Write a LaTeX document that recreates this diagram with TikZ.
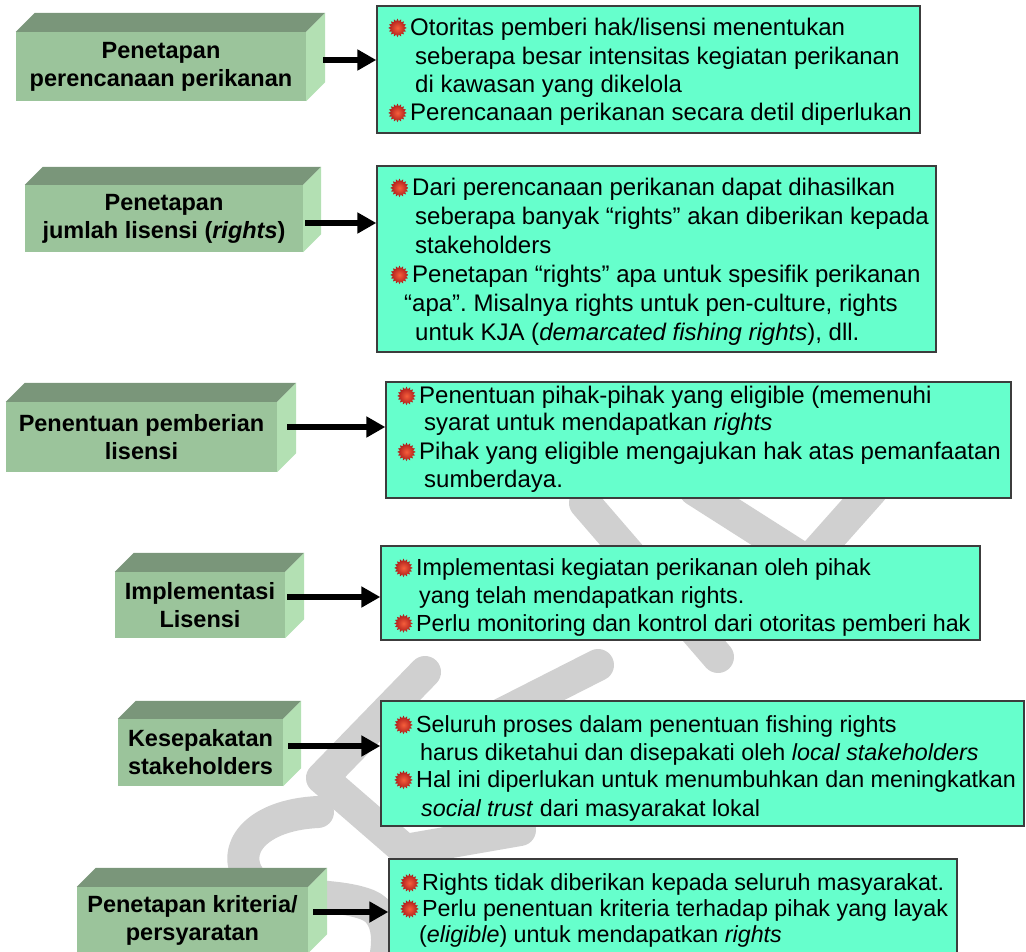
\documentclass[tikz,border=0pt]{standalone}
\usepackage{fontspec}
\setmainfont{Liberation Sans}
\usetikzlibrary{arrows.meta,calc}

\definecolor{frontgreen}{RGB}{155,196,155}
\definecolor{topgreen}{RGB}{122,150,122}
\definecolor{sidegreen}{RGB}{179,224,179}
\definecolor{notefill}{RGB}{102,255,204}
\definecolor{noteline}{RGB}{60,60,60}
\definecolor{markgray}{RGB}{208,208,208}
\definecolor{starin}{RGB}{245,95,60}
\definecolor{starout}{RGB}{170,25,25}

% top and right faces of a slab whose front face is node #1, depth #2
\newcommand\slabfaces[2]{%
  \fill[topgreen] (#1.north west) -- ++(#2,-#2) -- ($(#1.north east)+(#2,-#2)$) -- (#1.north east) -- cycle;
  \fill[sidegreen] (#1.north east) -- ++(#2,-#2) -- ($(#1.south east)+(#2,-#2)$) -- (#1.south east) -- cycle;}

\begin{document}
\frenchspacing
\begin{tikzpicture}[x=1pt,y=-1pt,
  front/.style={fill=frontgreen, inner sep=0pt, align=center,
    font=\bfseries\fontsize{23.5}{28}\selectfont},
  panel/.style={fill=notefill, draw=noteline, line width=1.3pt, inner sep=0pt},
  txt/.style={inner sep=0pt, anchor=base west, font=\fontsize{24}{28}\selectfont},
  txtn/.style={txt, font=\fontsize{23.3}{28}\selectfont},
  link/.style={line width=6pt, -{Triangle[length=19pt,width=20pt]}},
  wm/.style={draw=markgray, line width=32pt, line cap=round, line join=round},
  starbullet/.pic={
    \shade[inner color=starin, outer color=starout]
      (0:9.2pt) \foreach \k in {1,...,15}{ -- ({\k*22.5-11.25}:6.8pt) -- ({\k*22.5}:9.2pt)} -- (348.75:6.8pt) -- cycle;}]

\useasboundingbox (0,0) rectangle (1026,951);

% faint background lettering
\draw[wm] (318,812) .. controls (255,815) and (230,850) .. (250,878)
          .. controls (268,902) and (330,890) .. (368,905) .. controls (392,915) and (390,950) .. (380,975);
\draw[wm] (425,672) -- (322,778) -- (405,850) -- (520,830);
\draw[wm] (598,665) -- (470,730);
\draw[wm] (585,503) -- (718,657);
\draw[wm] (695,490) -- (808,562) -- (872,490);

% left slabs
\node[front, minimum width=290pt, minimum height=69pt] (L1) at (161,66.5) {Penetapan\\perencanaan perikanan};
\slabfaces{L1}{19}
\node[front, minimum width=278pt, minimum height=67pt] (L2) at (164,218.5) {Penetapan\\jumlah lisensi (\textit{rights})};
\slabfaces{L2}{18}
\node[front, minimum width=271pt, minimum height=70pt] (L3) at (141.5,437) {Penentuan pemberian\\lisensi};
\slabfaces{L3}{19}
\node[front, minimum width=170pt, minimum height=66pt] (L4) at (200,605) {Implementasi\\Lisensi};
\slabfaces{L4}{19}
\node[front, minimum width=165pt, minimum height=67pt] (L5) at (200.5,752.5) {Kesepakatan\\stakeholders};
\slabfaces{L5}{18}
\node[front, minimum width=231pt, minimum height=66pt] (L6) at (192.5,920) {Penetapan kriteria/\\persyaratan};
\slabfaces{L6}{19}

% right panels
\node[panel, minimum width=543pt, minimum height=127pt] (R1) at (648.5,69.5) {};
\node[panel, minimum width=559pt, minimum height=186pt] (R2) at (656.5,259) {};
\node[panel, minimum width=625pt, minimum height=116pt] (R3) at (698.5,440) {};
\node[panel, minimum width=599pt, minimum height=94pt] (R4) at (680.5,593) {};
\node[panel, minimum width=643pt, minimum height=125pt] (R5) at (702.5,763.5) {};
\node[panel, minimum width=568pt, minimum height=100pt] (R6) at (673,909) {};

% panel texts
\node[txt] (r1a) at (410,35.5) {Otoritas pemberi hak/lisensi menentukan};
\node[txt] (r1b) at (415,64) {seberapa besar intensitas kegiatan perikanan};
\node[txt] (r1c) at (415,92) {di kawasan yang dikelola};
\node[txt] (r1d) at (410,120.5) {Perencanaan perikanan secara detil diperlukan};

\node[txt] (r2a) at (412,195.5) {Dari perencanaan perikanan dapat dihasilkan};
\node[txt] (r2b) at (415,224.5) {seberapa banyak “rights” akan diberikan kepada};
\node[txt] (r2c) at (415,253.5) {stakeholders};
\node[txt] (r2d) at (412,282.5) {Penetapan “rights” apa untuk spesifik perikanan};
\node[txt] (r2e) at (404,311.5) {“apa”. Misalnya rights untuk pen-culture, rights};
\node[txt] (r2f) at (415,340.5) {untuk KJA (\textit{demarcated fishing rights}), dll.};

\node[txt] (r3a) at (419,403.5) {Penentuan pihak-pihak yang eligible (memenuhi};
\node[txt] (r3b) at (424,430.5) {syarat untuk mendapatkan \textit{rights}};
\node[txt] (r3c) at (419,459.5) {Pihak yang eligible mengajukan hak atas pemanfaatan};
\node[txt] (r3d) at (424,487.5) {sumberdaya.};

\node[txtn] (r4a) at (416,575.5) {Implementasi kegiatan perikanan oleh pihak};
\node[txtn] (r4b) at (419,603.5) {yang telah mendapatkan rights.};
\node[txtn] (r4c) at (416,631) {Perlu monitoring dan kontrol dari otoritas pemberi hak};

\node[txtn] (r5a) at (416,732.5) {Seluruh proses dalam penentuan fishing rights};
\node[txtn] (r5b) at (420,760.5) {harus diketahui dan disepakati oleh \textit{local stakeholders}};
\node[txtn] (r5c) at (416,787.5) {Hal ini diperlukan untuk menumbuhkan dan meningkatkan};
\node[txtn] (r5d) at (421,816) {\textit{social trust} dari masyarakat lokal};

\node[txtn] (r6a) at (422,890.5) {Rights tidak diberikan kepada seluruh masyarakat.};
\node[txtn] (r6b) at (422,916.5) {Perlu penentuan kriteria terhadap pihak yang layak};
\node[txtn] (r6c) at (419,942.5) {(\textit{eligible}) untuk mendapatkan \textit{rights}};

% bullets in front of each item
\foreach \n in {r1a,r1d,r2a,r2d,r3a,r3c,r4a,r4c,r5a,r5c,r6a,r6b}
  \pic at ($(\n.base west)+(-12.5,-7.6)$) {starbullet};

% connectors from slabs to panels
\coordinate (s1) at ([xshift=17pt,yshift=6.5pt]L1.east);
\coordinate (s2) at ([xshift=2pt,yshift=-4.5pt]L2.east);
\coordinate (s3) at ([xshift=10pt,yshift=10pt]L3.east);
\coordinate (s4) at ([xshift=2pt,yshift=8pt]L4.east);
\coordinate (s5) at ([xshift=5pt,yshift=6.5pt]L5.east);
\coordinate (s6) at ([xshift=5pt,yshift=8pt]L6.east);
\draw[link] (s1) -- (s1 -| R1.west);
\draw[link] (s2) -- (s2 -| R2.west);
\draw[link] (s3) -- (s3 -| R3.west);
\draw[link] (s4) -- (s4 -| R4.west);
\draw[link] (s5) -- (s5 -| R5.west);
\draw[link] (s6) -- (s6 -| R6.west);
\end{tikzpicture}
\end{document}
